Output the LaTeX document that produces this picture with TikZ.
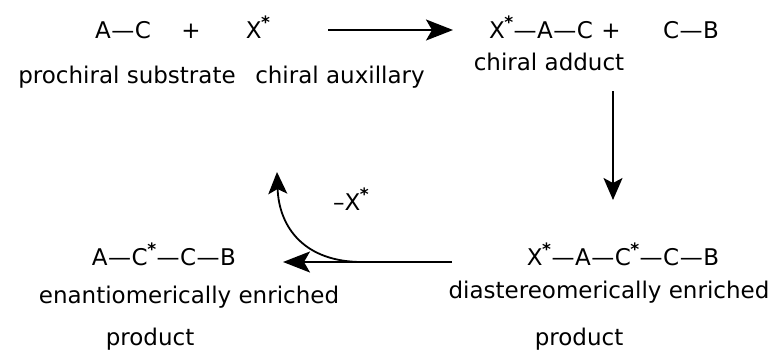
\documentclass[tikz,border=0pt]{standalone}
\usepackage{fontspec}
\setmainfont{DejaVu Sans}
\usetikzlibrary{arrows.meta}
\newcommand\starsup{\kern-0.5pt\raisebox{0.40em}{\fontsize{17}{17}\selectfont\bfseries *}}
\newcommand\bd{\kern0.5pt---\kern0.5pt}
\begin{document}
\begin{tikzpicture}[x=1pt,y=-1pt,
  txt/.style={anchor=base,inner sep=0pt,font=\fontsize{23}{26}\selectfont},
  arr/.style={line width=2pt,-{Stealth[length=27pt,width=21pt,inset=6pt]}},
  arrs/.style={line width=1.8pt,-{Stealth[length=22pt,width=19pt,inset=5pt]}}]
\useasboundingbox (0,0) rectangle (780,354);
% row 1
\node[txt] (ac) at (123,38) {A\bd C};
\node[txt] (p1) at (191,38) {+};
\node[txt] (xs) at (258,38) {X\starsup};
\node[txt] (xac) at (541,38) {X\starsup\bd A\bd C};
\node[txt] (p2) at (611,38) {+};
\node[txt] (cb) at (691,38) {C\bd B};
\node[txt] (lbl1) at (127,83) {prochiral substrate};
\node[txt] (lbl2) at (340,83) {chiral auxillary};
\node[txt] (lbl3) at (549,70) {chiral adduct};
% lower right
\node[txt] (dia) at (623,265) {X\starsup\bd A\bd C\starsup\bd C\bd B};
\node[txt] (lbl4) at (609,298) {diastereomerically enriched};
\node[txt] (lbl5) at (579,345) {product};
% lower left
\node[txt] (ena) at (164,265) {A\bd C\starsup\bd C\bd B};
\node[txt] (lbl6) at (189,303) {enantiomerically enriched};
\node[txt] (lbl7) at (150,345) {product};
\node[txt] (mx) at (351,210) {--X\starsup};
% arrows
\coordinate (t1) at (328,30);
\coordinate (t2) at (453,30);
\coordinate (d1) at (613,91);
\coordinate (d2) at (613,200);
\coordinate (h1) at (452,262);
\coordinate (h2) at (283,262);
\coordinate (br) at (362,262);
\coordinate (up) at (277,172);
\draw[arr] (t1) -- (t2);
\draw[arrs] (d1) -- (d2);
\draw[arr] (h1) -- (h2);
\draw[arrs] (br) .. controls (305,262) and (279,228) .. (up);
\end{tikzpicture}
\end{document}
